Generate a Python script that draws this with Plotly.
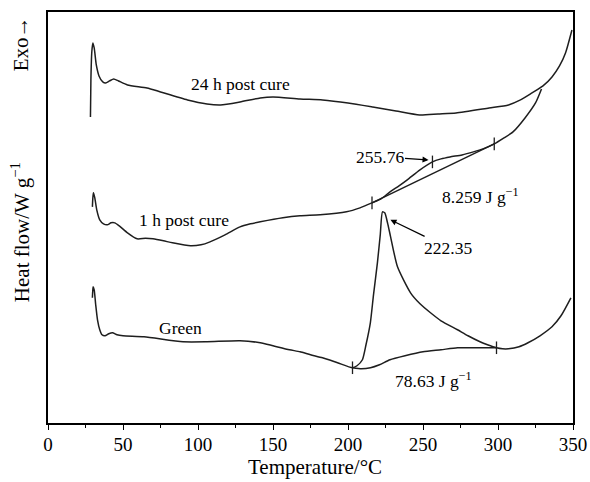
import plotly.graph_objects as go

# ---- data (temperature in °C, heat flow in arbitrary units, offset curves) ----
T_24h = [28.3, 28.6, 29.2, 29.9, 30.8, 32.2, 34, 36.5, 38.5, 41, 43.8, 47, 53, 66, 75, 93, 106, 115, 128,
         141.5, 150, 168, 183, 200, 216.5, 232, 247.7, 260, 272, 294, 307, 315, 322.7, 330, 336, 341, 345, 349.3]
HF_24h = [117, 80, 52, 43, 48, 65, 76, 82, 83, 81, 79, 81, 85, 88, 92, 100, 104, 105, 102,
          98, 97, 99, 100, 103, 107, 111, 115, 114, 113, 108, 105, 100, 93, 86, 77, 66, 53, 30]

T_1h = [29.6, 29.9, 30.3, 31.2, 32.5, 34.5, 37, 39.5, 42, 44.5, 47.5, 53, 59.4, 65, 70, 77, 83, 95, 102,
        108, 118, 128, 135, 141.5, 156.6, 168, 181.4, 199, 208, 216, 222, 228, 234, 239.5, 248, 256.3,
        262, 268, 276, 283.6, 290, 297.5, 304, 310, 318, 325, 329]
HF_1h = [207, 198, 193, 198, 210, 220, 224, 225, 223, 223, 226, 233, 239, 238.5, 239, 241, 243, 246, 245,
         242, 235, 227, 224, 222, 218, 216, 215, 212, 208, 203, 199, 192, 186, 180, 170, 162,
         159, 157, 155, 152, 149, 144, 138, 132, 118, 103, 89]

T_green = [29.6, 29.8, 30.1, 30.8, 31.8, 33, 34.5, 36, 38, 40.5, 43, 46, 50, 64, 90, 106, 128, 141.5, 150,
           161, 168, 175, 183, 193, 203, 206, 209.6, 212, 214.9, 217, 219.6, 221.5, 223, 224.5, 226.5,
           228.4, 233, 241.7, 248, 255, 262, 273, 280, 288, 293, 299, 303, 307, 314, 320, 328, 336, 342, 348.6]
HF_green = [298, 292, 287, 290, 305, 320, 330, 335, 336, 334, 333, 335, 336, 337, 342, 342, 341, 343, 346,
            350, 352, 355, 358, 363, 368, 366, 360, 345, 323, 295, 263, 235, 212, 213, 224,
            237, 267, 293, 304, 313, 321, 330, 336, 342, 345, 348, 349, 349, 347, 343, 336, 327, 316, 298]

# integration baselines
T_base_green = [203, 209, 215, 221, 228, 238, 250, 262, 273, 285, 299]
HF_base_green = [368, 369, 368, 365, 360, 356, 352, 350, 348, 348, 348]
T_base_1h = [216, 297.5]
HF_base_1h = [203, 144]

# tick marks on curves
T_marks = [203, 299, 216, 256.3, 297.5]
HF_marks = [368, 348, 203, 162, 144]

x_ticks = [0, 50, 100, 150, 200, 250, 300, 350]

PLOT_TOP = 423.3  # reference for converting to y-up units


def up(vals):
    return [PLOT_TOP - v for v in vals]


LINE = dict(color="#1e1e1e", width=1.5)
FONT = "Liberation Serif, Times New Roman, serif"

fig = go.Figure()
for tx, hy in [(T_24h, HF_24h), (T_1h, HF_1h), (T_green, HF_green),
               (T_base_green, HF_base_green), (T_base_1h, HF_base_1h)]:
    fig.add_trace(go.Scatter(x=tx, y=up(hy), mode="lines", line=dict(LINE, shape="spline", smoothing=0.6),
                             showlegend=False, hoverinfo="skip"))
fig.add_trace(go.Scatter(x=T_marks, y=up(HF_marks), mode="markers",
                         marker=dict(symbol="line-ns", size=9, line=dict(color="#1e1e1e", width=1.3)),
                         showlegend=False, hoverinfo="skip"))

ann_font = dict(family=FONT, size=17.5, color="black")
title_font = dict(family=FONT, size=21, color="black")
annotations = [
    dict(x=128.5, y=PLOT_TOP - 84, text="24 h post cure", showarrow=False, font=ann_font),
    dict(x=90.5, y=PLOT_TOP - 220, text="1 h post cure", showarrow=False, font=ann_font),
    dict(x=88.5, y=PLOT_TOP - 328, text="Green", showarrow=False, font=ann_font),
    dict(x=253.7, y=PLOT_TOP - 160, text="255.76", showarrow=True, ax=-49, ay=-3,
         arrowhead=2, arrowsize=1, arrowwidth=1.2, arrowcolor="black", font=ann_font),
    dict(x=288.2, y=PLOT_TOP - 196, text="8.259 J g<sup>−1</sup>", showarrow=False, font=ann_font),
    dict(x=228.3, y=PLOT_TOP - 220, text="222.35", showarrow=True, ax=58, ay=28,
         arrowhead=2, arrowsize=1, arrowwidth=1.2, arrowcolor="black", font=ann_font),
    dict(x=256.8, y=PLOT_TOP - 380, text="78.63 J g<sup>−1</sup>", showarrow=False, font=ann_font),
    dict(xref="paper", yref="paper", x=(21 - 47.7) / 525.6, y=(423.3 - 44) / 411.3, text="Exo→",
         textangle=-90, showarrow=False, xanchor="center", yanchor="middle", font=title_font),
    dict(xref="paper", yref="paper", x=(21 - 47.7) / 525.6, y=(423.3 - 232) / 411.3,
         text="Heat flow/W g<sup>−1</sup>", textangle=-90, showarrow=False,
         xanchor="center", yanchor="middle", font=title_font),
    dict(xref="paper", yref="paper", x=(315 - 47.7) / 525.6, y=(423.3 - 467) / 411.3,
         text="Temperature/°C", showarrow=False, xanchor="center", yanchor="middle", font=title_font),
]

fig.update_layout(
    width=590, height=482,
    margin=dict(l=48, r=17, t=12, b=59, autoexpand=False),
    plot_bgcolor="white", paper_bgcolor="white",
    annotations=annotations,
    xaxis=dict(range=[0, 350], tickvals=x_ticks, ticks="outside", ticklen=5, tickwidth=1.3,
               tickcolor="black", showline=True, linecolor="black", linewidth=1.5, mirror=True,
               showgrid=False, zeroline=False, ticklabelstandoff=-2,
               tickfont=dict(family=FONT, size=19, color="black"),
               minor=dict(dtick=25, ticks="outside", ticklen=3, tickwidth=1.3, tickcolor="black")),
    yaxis=dict(range=[0, 411.3], showticklabels=False, ticks="", showline=True, linecolor="black",
               linewidth=1.5, mirror=True, showgrid=False, zeroline=False),
)

# remove the default page margin so the 590x482 figure fills the window exactly
fig.write_html("out.html", config={"displayModeBar": False},
               post_script="document.body.style.margin='0';document.body.style.overflow='hidden';")
